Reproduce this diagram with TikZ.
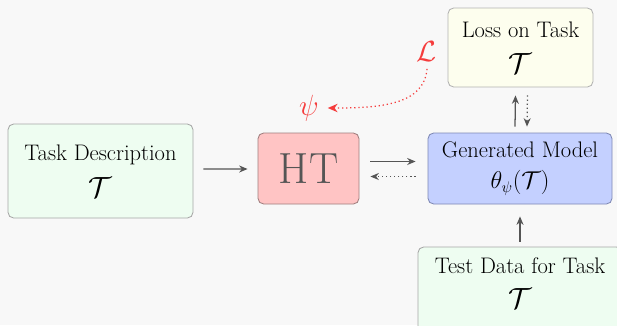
\documentclass[tikz,border=0pt]{standalone}
\usepackage{amsmath}
\usetikzlibrary{arrows.meta}

\definecolor{bggray}{HTML}{F8F8F8}
\definecolor{taskgreen}{HTML}{EEFDF1}
\definecolor{htred}{HTML}{FFC4C4}
\definecolor{modelblue}{HTML}{C4D0FF}
\definecolor{lossyellow}{HTML}{FDFEEE}
\definecolor{arrowgray}{HTML}{555555}
\definecolor{gradred}{HTML}{F53C3C}
\definecolor{htborder}{HTML}{A07E7E}
\definecolor{modelborder}{HTML}{7E88B4}

\newcommand{\bigT}{{\fontsize{22}{22}\selectfont$\mathcal{T}$}}

\tikzset{
  box/.style={draw=#1, rounded corners=4pt, line width=0.6pt, align=center,
    font=\fontsize{16}{22}\selectfont, inner sep=0pt},
  flow/.style={-{Stealth[length=6pt,width=5pt]}, draw=arrowgray, line width=0.9pt},
  back/.style={flow, dotted}
}

\begin{document}
\begin{tikzpicture}[x=0.025cm, y=-0.025cm]
\useasboundingbox[fill=bggray] (0,0) rectangle (617,325);

        \node[box=black!35, fill=taskgreen, minimum width=185*0.025cm, minimum height=94*0.025cm]
            at (100.5,171) (task) {Task Description\\[4pt] \bigT};
        \node[box=htborder, fill=htred, minimum width=101*0.025cm, minimum height=71*0.025cm,
            text=arrowgray, font=\fontsize{31}{36}\selectfont]
            at (308.5,168.5) (ht) {HT};
        \node[box=modelborder, fill=modelblue, minimum width=184*0.025cm, minimum height=71*0.025cm]
            at (520,168.5) (model) {Generated Model\\ $\theta_{\psi}(\mathcal{T})$};
        \node[box=black!30, fill=lossyellow, minimum width=145*0.025cm, minimum height=79*0.025cm]
            at (520.5,47.5) (loss) {Loss on Task\\[4pt] \bigT};
        \node[box=black!35, fill=taskgreen, minimum width=204*0.025cm, minimum height=94*0.025cm]
            at (520,294) (test) {Test Data for Task\\[3pt] \bigT\\[-6pt]};

        \node[text=gradred, font=\fontsize{22}{22}\selectfont] at (427,52) (lsym) {$\mathcal{L}$};
        \node[text=gradred, font=\fontsize{22}{22}\selectfont] at (309,108) (psi) {$\psi$};

        \draw[flow] ([xshift=10*0.025cm,yshift=2*0.025cm]task.east) -- ([xshift=-10*0.025cm,yshift=-0.5*0.025cm]ht.west);
        \draw[flow] ([xshift=11*0.025cm,yshift=7*0.025cm]ht.east) -- ([xshift=-12*0.025cm,yshift=7*0.025cm]model.west);
        \draw[back] ([xshift=-12*0.025cm,yshift=-8*0.025cm]model.west) -- ([xshift=11*0.025cm,yshift=-8*0.025cm]ht.east);
        \draw[flow] ([xshift=-5*0.025cm,yshift=6*0.025cm]model.north) -- ([xshift=-5*0.025cm,yshift=-8*0.025cm]loss.south);
        \draw[back] ([xshift=7*0.025cm,yshift=-8*0.025cm]loss.south) -- ([xshift=7*0.025cm,yshift=6*0.025cm]model.north);
        \draw[flow] ([yshift=5*0.025cm]test.north) -- ([yshift=-12*0.025cm]model.south);
        \draw[-{Stealth[length=7pt,width=6pt]}, draw=gradred, line width=0.9pt, dotted]
            ([yshift=-2*0.025cm]lsym.south) .. controls (424,105) and (380,108) .. ([xshift=4*0.025cm]psi.east);
            \end{tikzpicture}
\end{document}
